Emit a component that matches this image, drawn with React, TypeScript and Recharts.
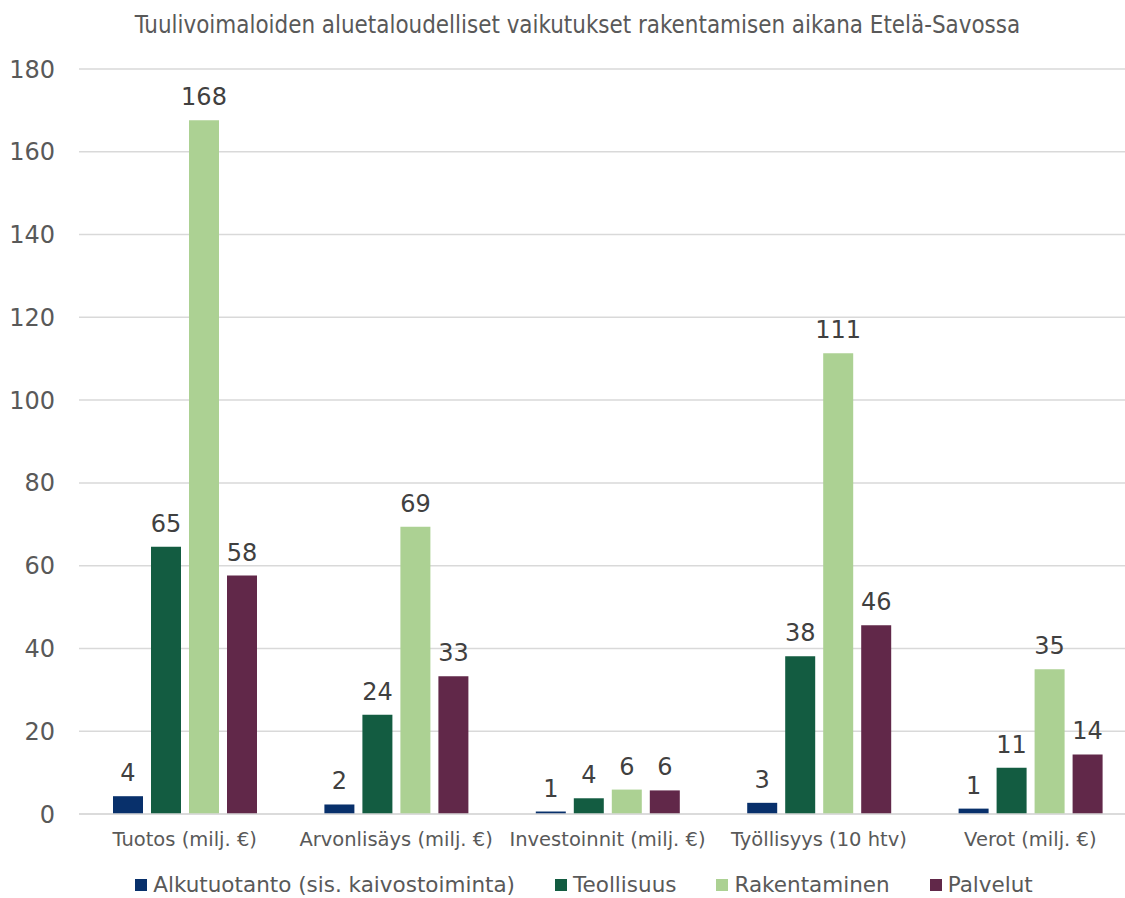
import { BarChart, Bar, XAxis, YAxis, CartesianGrid, Legend, LabelList } from 'recharts'

const categories = [
  'Tuotos (milj. €)',
  'Arvonlisäys (milj. €)',
  'Investoinnit (milj. €)',
  'Työllisyys (10 htv)',
  'Verot (milj. €)',
]
const alkutuotanto = [4.3, 2.3, 0.6, 2.7, 1.3]
const teollisuus = [64.6, 24.0, 3.8, 38.1, 11.2]
const rakentaminen = [167.6, 69.4, 5.9, 111.3, 35.0]
const palvelut = [57.6, 33.3, 5.7, 45.6, 14.4]
const yTicks = [0, 20, 40, 60, 80, 100, 120, 140, 160, 180]

const SERIES = [
  { key: 'alkutuotanto', name: 'Alkutuotanto (sis. kaivostoiminta)', color: '#08306b' },
  { key: 'teollisuus', name: 'Teollisuus', color: '#135c41' },
  { key: 'rakentaminen', name: 'Rakentaminen', color: '#acd193' },
  { key: 'palvelut', name: 'Palvelut', color: '#612849' },
]

const data = categories.map((c, i) => ({
  category: c,
  alkutuotanto: alkutuotanto[i],
  teollisuus: teollisuus[i],
  rakentaminen: rakentaminen[i],
  palvelut: palvelut[i],
}))

const FONT = '"DejaVu Sans", Verdana, sans-serif'

// plot area runs a bit past the right edge of the picture, like the original export
const CHART_W = 1136

function LegendContent() {
  return (
    <div style={{ display: 'flex', justifyContent: 'center', height: 40, paddingTop: 13, paddingLeft: 32, boxSizing: 'border-box' }}>
      {SERIES.map((s) => (
        <div key={s.key} style={{ display: 'flex', alignItems: 'center', margin: '0 20px' }}>
          <div style={{ width: 12, height: 12, background: s.color, marginRight: 6 }} />
          <span style={{ fontFamily: FONT, fontSize: 21.5, color: '#595959', lineHeight: '24px' }}>{s.name}</span>
        </div>
      ))}
    </div>
  )
}

export default function App() {
  return (
    <div style={{ position: 'absolute', left: 0, top: 0, width: 1125, height: 898, background: '#fff', overflow: 'hidden' }}>
      <div
        style={{
          position: 'absolute',
          top: 11,
          left: 30,
          width: 1095,
          textAlign: 'center',
          fontFamily: '"DejaVu Sans Condensed", "Liberation Sans Narrow", sans-serif',
          fontSize: 23.9,
          color: '#595959',
        }}
      >
        Tuulivoimaloiden aluetaloudelliset vaikutukset rakentamisen aikana Etelä-Savossa
      </div>
      <BarChart
        width={CHART_W}
        height={898}
        data={data}
        margin={{ top: 69, right: 0, left: 0, bottom: 0 }}
        barCategoryGap={34}
        barGap={8}
      >
        <CartesianGrid stroke="#d9d9d9" strokeWidth={1.5} vertical={false} />
        <XAxis
          dataKey="category"
          axisLine={{ stroke: '#d9d9d9', strokeWidth: 1.5 }}
          tickLine={false}
          tickMargin={12}
          height={44}
          interval={0}
          tick={{ fill: '#595959', fontSize: 19.5, fontFamily: FONT }}
        />
        <YAxis
          domain={[0, 180]}
          ticks={yTicks}
          width={79}
          axisLine={false}
          tickLine={false}
          tickMargin={18}
          tick={{ fill: '#595959', fontSize: 24, fontFamily: FONT }}
        />
        <Legend verticalAlign="bottom" content={<LegendContent />} />
        {SERIES.map((s) => (
          <Bar key={s.key} dataKey={s.key} name={s.name} fill={s.color} isAnimationActive={false}>
            <LabelList
              dataKey={s.key}
              position="top"
              offset={15}
              formatter={(v: number) => Math.round(v)}
              style={{ fill: '#404040', fontSize: 24, fontFamily: FONT }}
            />
          </Bar>
        ))}
      </BarChart>
    </div>
  )
}
